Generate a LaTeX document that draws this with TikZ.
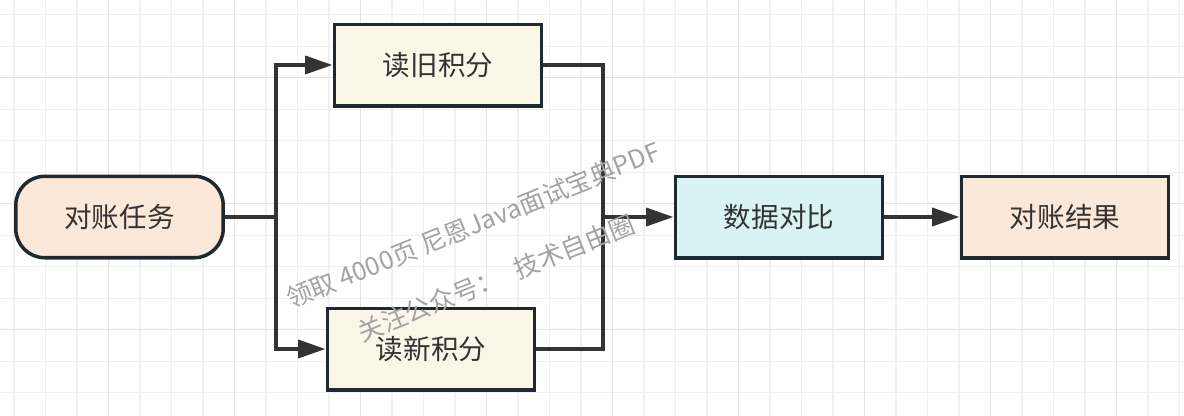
\documentclass[tikz,border=0pt]{standalone}
\usepackage{fontspec}
\setmainfont{Noto Sans CJK SC}
\usetikzlibrary{arrows.meta}
\definecolor{peach}{HTML}{FBE8D9}
\definecolor{cream}{HTML}{FBF7E8}
\definecolor{aqua}{HTML}{D9F2F3}
\definecolor{edge}{HTML}{1E2930}
\definecolor{wire}{HTML}{333333}
\definecolor{txt}{HTML}{333333}
\definecolor{wmgray}{HTML}{A3A3A3}

\begin{document}
\begin{tikzpicture}[x=0.02cm,y=-0.02cm, font=\fontsize{15.7pt}{19pt}\selectfont,
box/.style={draw=edge,line width=2pt,text=txt,minimum width=4.15cm,minimum height=1.63cm,inner sep=0pt},
taskbox/.style={box,rounded corners=0.58cm,fill=peach},
readbox/.style={box,fill=cream},
wire/.style={draw=wire,line width=2.2pt},
arr/.style={wire,-{Triangle[length=5.5mm,width=3.6mm]}},
wmtext/.style={text=wmgray,rotate=22,font=\fontsize{14.5pt}{17pt}\selectfont},
minorline/.style={draw=black!6,line width=0.6pt},
majorline/.style={draw=black!11,line width=0.7pt}]
\useasboundingbox[fill=white] (0,0) rectangle (1184,416);
% background grid
\foreach \gx in {0,...,37} \draw[minorline] ({14+31.5*\gx},0) -- ++(0,416);
\foreach \gy in {0,...,12} \draw[minorline] (0,{14.7+31.5*\gy}) -- ++(1184,0);
\foreach \gx in {3,7,...,35} \draw[majorline] ({14+31.5*\gx},0) -- ++(0,416);
\foreach \gy in {2,6,10} \draw[majorline] (0,{14.7+31.5*\gy}) -- ++(1184,0);

\node[taskbox] (task) at (119.5,217) {对账任务};
\node[readbox] (old) at (438,65) {读旧积分};
\node[readbox] (new) at (431,349) {读新积分};
\node[box,fill=aqua] (cmp) at (779,217) {数据对比};
\node[box,fill=peach] (res) at (1065,217) {对账结果};

\coordinate (fork) at (276,217);
\coordinate (join) at (603,217);
\draw[wire] (task.east) -- (fork);
\draw[arr] (fork) |- (old.west); \draw[arr] (fork) |- (new.west);
\draw[wire] (old.east) -| (join); \draw[wire] (new.east) -| (join);
\draw[arr] (join) -- (cmp.west);
\draw[arr] (cmp) -- (res);

% watermark
\node[wmtext] (wm1) at (473,225) {领取 4000页 尼恩Java面试宝典PDF};
\node[wmtext] (wm2) at (496,278) {关注公众号：\hspace{0.6em}技术自由圈};
\end{tikzpicture}
\end{document}
